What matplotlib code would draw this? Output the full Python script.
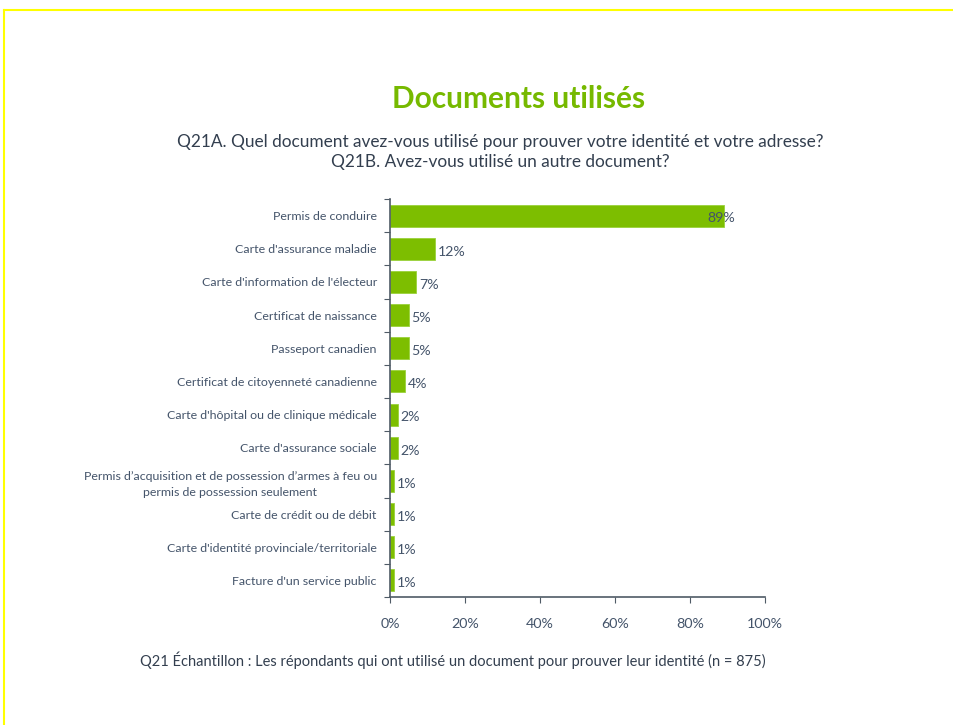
import matplotlib
matplotlib.use("Agg")
import matplotlib.pyplot as plt
from matplotlib.lines import Line2D

# data
categories = [
    "Permis de conduire",
    "Carte d'assurance maladie",
    "Carte d'information de l'électeur",
    "Certificat de naissance",
    "Passeport canadien",
    "Certificat de citoyenneté canadienne",
    "Carte d'hôpital ou de clinique médicale",
    "Carte d'assurance sociale",
    "Permis d’acquisition et de possession d’armes à feu ou\npermis de possession seulement",
    "Carte de crédit ou de débit",
    "Carte d'identité provinciale/territoriale",
    "Facture d'un service public",
]
values = [89, 12, 7, 5, 5, 4, 2, 2, 1, 1, 1, 1]
xticks = [0, 20, 40, 60, 80, 100]

title = "Documents utilisés"
subtitle = ("Q21A. Quel document avez-vous utilisé pour prouver votre identité et votre adresse?\n"
            "Q21B. Avez-vous utilisé un autre document?")
footnote = ("Q21 Échantillon : Les répondants qui ont utilisé un document pour prouver "
            "leur identité (n = 875)")

green = "#7DBE00"
txt = "#44546A"
axcol = "#4F5B66"

plt.rcParams['font.family'] = ['Lato', 'DejaVu Sans']

fig = plt.figure(figsize=(9.54, 7.25), dpi=100)
ax = fig.add_axes([390/954, 1-597/725, 375/954, (597-199)/725])

n = len(categories)
ypos = list(range(n))
ax.barh(ypos, values, height=0.66, color=green, edgecolor="#9AD23A", linewidth=0.6)
ax.set_ylim(n - 0.5, -0.5)
ax.set_xlim(0, 100)

for y, v in zip(ypos, values):
    if v > 80:
        ax.annotate("%d%%" % v, (v, y), xytext=(8, -2), textcoords="offset points",
                    ha="right", va="center", fontsize=10.2, color=txt)
    else:
        ax.annotate("%d%%" % v, (v, y), xytext=(2, -2), textcoords="offset points",
                    ha="left", va="center", fontsize=10.2, color=txt)

# category boundaries as y ticks
ax.set_yticks([i - 0.5 for i in range(n + 1)], minor=False)
ax.set_yticklabels([])
ax.set_yticks(ypos, minor=True)
ax.set_yticklabels(categories, minor=True, fontsize=8.9, color=txt)
for lab in ax.get_yticklabels(minor=True):
    lab.set_multialignment("center")
    lab.set_linespacing(1.55)
ax.tick_params(axis="y", which="minor", length=0, pad=9.5)
ax.tick_params(axis="y", which="major", length=4, color=axcol, direction="out")

ax.set_xticks(xticks)
ax.set_xticklabels(["%d%%" % t for t in xticks], fontsize=10.3, color=txt)
ax.tick_params(axis="x", length=4, color=axcol, pad=11)

for s in ["top", "right"]:
    ax.spines[s].set_visible(False)
for s in ["left", "bottom"]:
    ax.spines[s].set_color(axcol)
    ax.spines[s].set_linewidth(1.2)

fig.text(519/954, 1-99/725, title, ha="center", va="center", fontsize=21.5,
         fontweight="bold", color="#76B900")
fig.text(500/954, 1-152/725, subtitle, ha="center", va="center", fontsize=12.4,
         color="#333F4F", linespacing=1.3)
fig.text(453/954, 1-660/725, footnote, ha="center", va="center", fontsize=10.5,
         color="#333F4F")

# yellow frame on top and left
fig.add_artist(Line2D([4/954, 1], [1-10/725, 1-10/725], color="#FFFF00", lw=1.5,
                      transform=fig.transFigure))
fig.add_artist(Line2D([4/954, 4/954], [0, 1-10/725], color="#FFFF00", lw=1.5,
                      transform=fig.transFigure))

fig.savefig("out.png", dpi=100)
